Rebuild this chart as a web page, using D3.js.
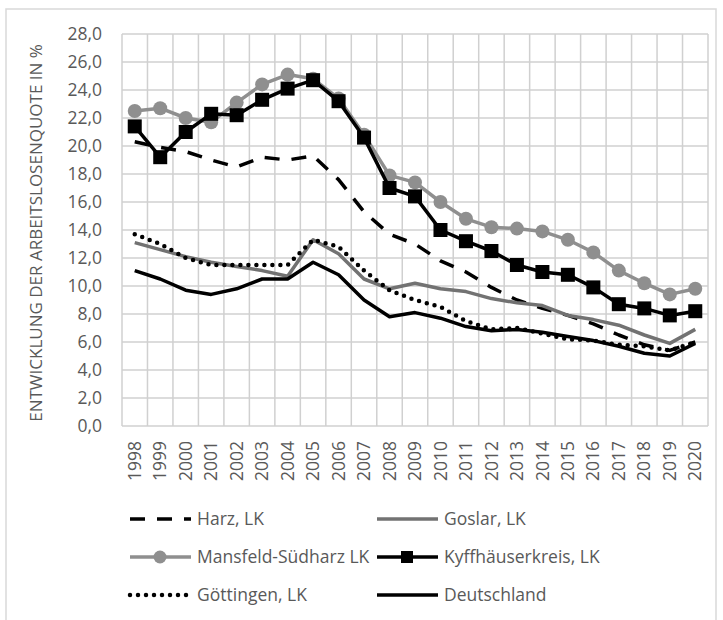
<!DOCTYPE html>
<html lang="de">
<head>
    <meta charset="UTF-8">
    <title>Arbeitslosenquote</title>
    <script src="https://d3js.org/d3.v7.min.js"></script>
    <style>
        body { margin: 0; background: #fff; }
        text { font-family: "Open Sans", sans-serif; fill: #595959; }
    </style>
</head>
<body>
    <div id="plot"></div>

    <script>
        let years = ['1998', '1999', '2000', '2001', '2002', '2003', '2004', '2005', '2006', '2007', '2008',
                     '2009', '2010', '2011', '2012', '2013', '2014', '2015', '2016', '2017', '2018', '2019', '2020'];
        let yTicks = [0, 2, 4, 6, 8, 10, 12, 14, 16, 18, 20, 22, 24, 26, 28];

        let harz        = [20.3, 19.9, 19.6, 19.0, 18.5, 19.2, 19.0, 19.3, 17.6, 15.3, 13.7, 13.0, 11.8, 11.0, 9.9, 9.0, 8.4, 7.9, 7.3, 6.5, 5.8, 5.4, 6.0];
        let goslar      = [13.1, 12.6, 12.1, 11.7, 11.4, 11.1, 10.7, 13.3, 12.3, 10.5, 9.8, 10.2, 9.8, 9.6, 9.1, 8.8, 8.6, 7.9, 7.6, 7.2, 6.5, 5.9, 6.9];
        let mansfeld    = [22.5, 22.7, 22.0, 21.7, 23.1, 24.4, 25.1, 24.8, 23.4, 20.8, 17.9, 17.4, 16.0, 14.8, 14.2, 14.1, 13.9, 13.3, 12.4, 11.1, 10.2, 9.4, 9.8];
        let kyffhaeuser = [21.4, 19.2, 21.0, 22.3, 22.2, 23.3, 24.1, 24.7, 23.2, 20.6, 17.0, 16.4, 14.0, 13.2, 12.5, 11.5, 11.0, 10.8, 9.9, 8.7, 8.4, 7.9, 8.2];
        let goettingen  = [13.7, 13.0, 12.0, 11.5, 11.5, 11.5, 11.5, 13.3, 12.8, 11.1, 9.7, 9.0, 8.5, 7.5, 6.9, 7.0, 6.6, 6.2, 6.1, 5.8, 5.7, 5.4, 6.0];
        let deutschland = [11.1, 10.5, 9.7, 9.4, 9.8, 10.5, 10.5, 11.7, 10.8, 9.0, 7.8, 8.1, 7.7, 7.1, 6.8, 6.9, 6.7, 6.4, 6.1, 5.7, 5.2, 5.0, 5.9];

        let series = [
            {name: 'Harz, LK', values: harz, color: '#000', width: 3.5, dash: '15,12', cap: 'butt'},
            {name: 'Goslar, LK', values: goslar, color: '#727272', width: 3.5, dash: null, cap: 'butt'},
            {name: 'Mansfeld-Südharz LK', values: mansfeld, color: '#8f8f8f', width: 3.5, dash: null, cap: 'butt', marker: 'circle'},
            {name: 'Kyffhäuserkreis, LK', values: kyffhaeuser, color: '#000', width: 3.5, dash: null, cap: 'butt', marker: 'square'},
            {name: 'Göttingen, LK', values: goettingen, color: '#000', width: 4.5, dash: '0,8', cap: 'round'},
            {name: 'Deutschland', values: deutschland, color: '#000', width: 3.5, dash: null, cap: 'butt'}
        ];

        let svgWidth = 723, svgHeight = 620;
        let plot = {left: 122, right: 708, top: 34, bottom: 426};

        let svg = d3.select('#plot')
                    .append('svg')
                        .attr('width', svgWidth)
                        .attr('height', svgHeight);

        // outer chart frame
        svg.append('rect')
            .attr('x', 6).attr('y', 9)
            .attr('width', 710).attr('height', 640)
            .attr('fill', 'none')
            .attr('stroke', '#d9d9d9')
            .attr('stroke-width', 1.5);

        let x = d3.scaleBand()
                    .domain(years)
                    .range([plot.left, plot.right])
                    .padding(0);
        let y = d3.scaleLinear()
                    .domain([0, 28])
                    .range([plot.bottom, plot.top]);

        let de = d3.formatLocale({decimal: ',', thousands: '.', grouping: [3], currency: ['', ' €']});

        // grid
        svg.append('g')
            .selectAll('line')
            .data(yTicks)
            .join('line')
                .attr('x1', plot.left).attr('x2', plot.right)
                .attr('y1', d => y(d)).attr('y2', d => y(d))
                .attr('stroke', '#d0d0d0').attr('stroke-width', 1.5);

        svg.append('g')
            .selectAll('line')
            .data(years.concat(['end']))
            .join('line')
                .attr('x1', (d, i) => plot.left + i * x.bandwidth())
                .attr('x2', (d, i) => plot.left + i * x.bandwidth())
                .attr('y1', plot.top).attr('y2', plot.bottom)
                .attr('stroke', '#d0d0d0').attr('stroke-width', 1.5);

        // axes
        let yAxis = d3.axisLeft(y)
                        .tickValues(yTicks)
                        .tickSize(0)
                        .tickPadding(20)
                        .tickFormat(de.format('.1f'));
        let gy = svg.append('g')
            .attr('transform', 'translate(' + plot.left + ',0)')
            .call(yAxis);
        gy.select('.domain').remove();
        gy.selectAll('text')
            .attr('font-size', 17.5)
            .style('font-family', '"Open Sans", sans-serif')
            .attr('fill', '#595959');

        let xAxis = d3.axisBottom(x).tickSize(0);
        let gx = svg.append('g')
            .attr('transform', 'translate(0,' + plot.bottom + ')')
            .call(xAxis);
        gx.select('.domain').remove();
        gx.selectAll('text')
            .attr('font-size', 17.5)
            .style('font-family', '"Open Sans", sans-serif')
            .attr('fill', '#595959')
            .attr('transform', 'rotate(-90)')
            .attr('text-anchor', 'end')
            .attr('dy', '0.35em')
            .attr('x', -15)
            .attr('y', 0);

        svg.append('text')
            .attr('transform', 'translate(42,' + ((plot.top + plot.bottom) / 2 + 3) + ') rotate(-90)')
            .attr('text-anchor', 'middle')
            .attr('font-size', 17)
            .text('ENTWICKLUNG DER ARBEITSLOSENQUOTE IN %');

        // lines
        let line = d3.line()
                        .x((d, i) => x(years[i]) + x.bandwidth() / 2)
                        .y(d => y(d));

        series.forEach(function(s){
            svg.append('path')
                .datum(s.values)
                .attr('d', line)
                .attr('fill', 'none')
                .attr('stroke', s.color)
                .attr('stroke-width', s.width)
                .attr('stroke-linejoin', 'round')
                .attr('stroke-linecap', s.cap)
                .attr('stroke-dasharray', s.dash);

            if (s.marker == 'circle') {
                svg.append('g').selectAll('circle')
                    .data(s.values)
                    .join('circle')
                        .attr('cx', (d, i) => x(years[i]) + x.bandwidth() / 2)
                        .attr('cy', d => y(d))
                        .attr('r', 7)
                        .attr('fill', s.color);
            }
            if (s.marker == 'square') {
                svg.append('g').selectAll('rect')
                    .data(s.values)
                    .join('rect')
                        .attr('x', (d, i) => x(years[i]) + x.bandwidth() / 2 - 7)
                        .attr('y', d => y(d) - 7)
                        .attr('width', 14).attr('height', 14)
                        .attr('fill', s.color);
            }
        });

        // legend
        let legendCols = [130, 377];
        let legendRows = [519, 557, 595];
        let legend = svg.append('g');
        series.forEach(function(s, i){
            let lx = legendCols[i % 2];
            let ly = legendRows[Math.floor(i / 2)];
            let g = legend.append('g').attr('transform', 'translate(' + lx + ',' + ly + ')');
            g.append('line')
                .attr('x1', 0).attr('x2', 61)
                .attr('y1', 0).attr('y2', 0)
                .attr('stroke', s.color)
                .attr('stroke-width', s.width)
                .attr('stroke-linecap', s.cap)
                .attr('stroke-dasharray', s.dash);
            if (s.marker == 'circle') {
                g.append('circle').attr('cx', 30).attr('cy', 0).attr('r', 6.5).attr('fill', s.color);
            }
            if (s.marker == 'square') {
                g.append('rect').attr('x', 24).attr('y', -6).attr('width', 12).attr('height', 12).attr('fill', s.color);
            }
            g.append('text')
                .attr('x', 67)
                .attr('y', 0)
                .attr('dy', '0.35em')
                .attr('font-size', 17.5)
                .text(s.name);
        });
    </script>
</body>
</html>
